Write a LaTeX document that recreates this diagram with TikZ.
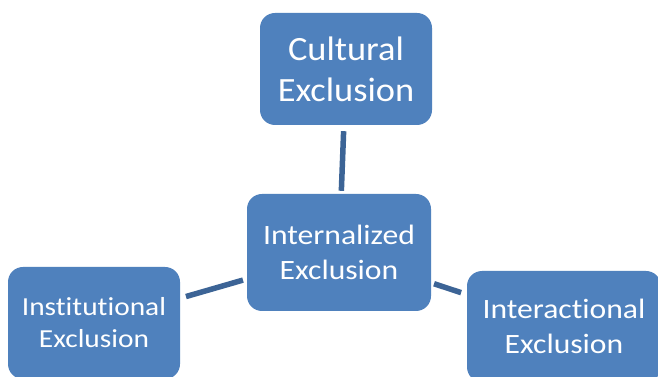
\documentclass[tikz,border=0pt]{standalone}
\usepackage{fontspec}
\setmainfont{Carlito}
\newfontfamily\boxfont[FakeStretch=1.13,Ligatures=NoCommon]{Carlito}
\newfontfamily\bigboxfont[FakeStretch=1.07,Ligatures=NoCommon]{Carlito}
\definecolor{boxblue}{HTML}{4F81BD}
\definecolor{linkblue}{HTML}{3C6496}
\begin{document}
\begin{tikzpicture}[x=1pt,y=1pt,
  exbox/.style={fill=boxblue, rounded corners=15pt, inner sep=0pt,
    text=white, align=center},
  link/.style={draw=linkblue, line width=5.5pt}]
  \useasboundingbox (0,0) rectangle (658,377);
  \clip (0,0) rectangle (658,377);
  \fill[white] (0,0) rectangle (658,377);

  % central concept
  \node[exbox, minimum width=184pt, minimum height=117pt,
        font=\boxfont\fontsize{28}{35}\selectfont] (intern) at (339,124.5)
        {Internalized\\Exclusion};
  % surrounding concepts
  \node[exbox, minimum width=172pt, minimum height=112pt,
        font=\bigboxfont\fontsize{34}{41}\selectfont] (cult) at (346,308)
        {Cultural\\Exclusion};
  \node[exbox, minimum width=172pt, minimum height=112pt,
        font=\boxfont\fontsize{26}{32}\selectfont] (inst) at (94,54)
        {Institutional\\Exclusion};
  \node[exbox, minimum width=194pt, minimum height=111pt,
        font=\boxfont\fontsize{28}{35}\selectfont] (inter) at (564,50.5)
        {Interactional\\Exclusion};

  % links to the centre
  \draw[link, shorten <=6pt, shorten >=3pt] (cult) -- (intern);
  \draw[link, shorten <=6pt, shorten >=4pt] (inst) -- (intern);
  \draw[link, shorten <=6pt, shorten >=3pt] (inter) -- (intern);
\end{tikzpicture}
\end{document}
